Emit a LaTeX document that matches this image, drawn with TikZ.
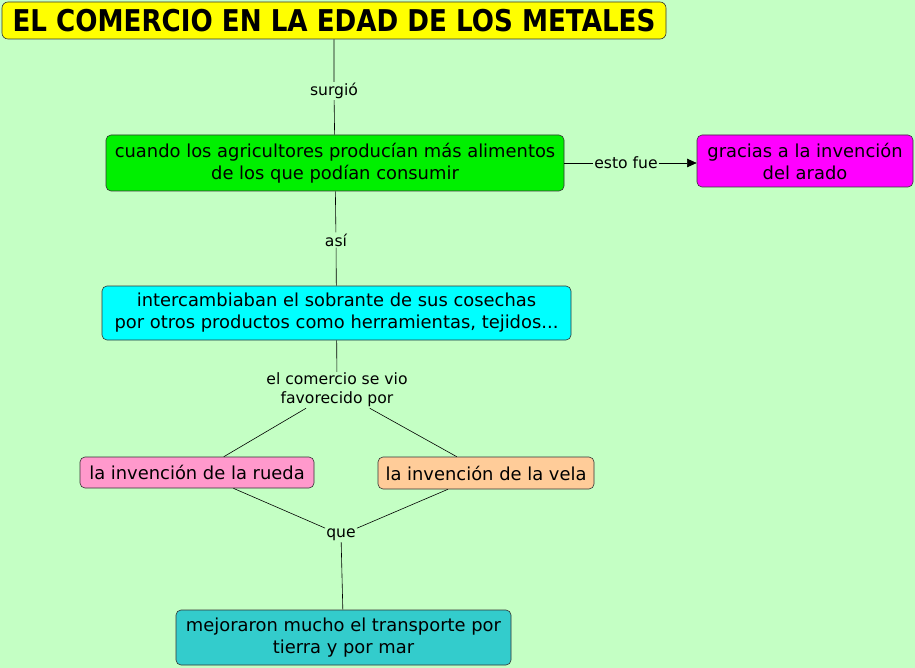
\documentclass[tikz,border=0pt]{standalone}
\usepackage{fontspec}
\setmainfont{DejaVu Sans}
\usepackage{graphicx}
\usetikzlibrary{arrows.meta,positioning}
\definecolor{mapbg}{HTML}{C4FFC4}
\definecolor{titleyellow}{HTML}{FFFF00}
\definecolor{boxgreen}{HTML}{00F000}
\definecolor{boxmagenta}{HTML}{FF00FF}
\definecolor{boxcyan}{HTML}{00FFFF}
\definecolor{boxpink}{HTML}{FF99CC}
\definecolor{boxpeach}{HTML}{FFCC99}
\definecolor{boxteal}{HTML}{33CCCC}
\tikzset{
  >={Triangle[length=3.4mm,width=3mm]},
  % begrepp
  cbox/.style={draw=black!80,line width=0.6pt,rounded corners=5pt,align=center,
               inner sep=2pt,font=\fontsize{17.9}{22}\selectfont},
  ttl/.style={cbox,fill=titleyellow,rounded corners=6pt},
  % länkar
  lnk/.style={fill=mapbg,inner sep=1pt,align=center,font=\fontsize{15.6}{19}\selectfont},
  cl/.style={draw=black,line width=0.6pt},
}

\begin{document}
\begin{tikzpicture}[x=1pt,y=-1pt]
  \fill[mapbg] (0,0) rectangle (915,668);
  \useasboundingbox (0,0) rectangle (915,668);
  \node[ttl,minimum width=664pt,minimum height=37pt] (t) at (334,20.5)
    {\scalebox{0.872}[1]{\fontsize{30}{32}\selectfont\bfseries EL COMERCIO EN LA EDAD DE LOS METALES}};
  \node[cbox,fill=boxgreen,minimum width=458pt,minimum height=56pt] (g) at (335,163)
    {cuando los agricultores producían más alimentos\\de los que podían consumir};
  \node[cbox,fill=boxmagenta,minimum width=216pt,minimum height=52pt] (m) at (805,161)
    {gracias a la invención\\del arado};
  \node[cbox,fill=boxcyan,minimum width=469pt,minimum height=54pt] (c) at (336.5,313)
    {intercambiaban el sobrante de sus cosechas\\por otros productos como herramientas, tejidos...};
  \node[cbox,fill=boxpink,minimum width=234pt,minimum height=31pt] (r) at (197,472.5)
    {la invención de la rueda};
  \node[cbox,fill=boxpeach,minimum width=216pt,minimum height=32pt] (v) at (486,473)
    {la invención de la vela};
  \node[cbox,fill=boxteal,minimum width=335pt,minimum height=55pt] (tm) at (343.5,637.5)
    {mejoraron mucho el transporte por\\tierra y por mar};
  % länktexter
  \node[lnk] (l1) at (334,91) {surgió};
  \node[lnk] (l2) at (336,240) {así};
  \node[lnk] (l3) at (626,163) {esto fue};
  \node[lnk] (l4) at (337,390) {el comercio se vio\\favorecido por};
  \node[lnk] (l5) at (341,535) {que};
  % linjer
  \draw[cl] (t) -- (l1) -- (g);
  \draw[cl] (g) -- (l2) -- (c);
  \draw[cl] (g) -- (l3);
  \draw[cl,->] (l3) -- (l3 -| m.west);
  \draw[cl] (c) -- (l4);
  \draw[cl] (l4) -- (r);
  \draw[cl] (l4) -- (v);
  \draw[cl] (r) -- (l5);
  \draw[cl] (v) -- (l5);
  \draw[cl] (l5) -- (tm);
\end{tikzpicture}
\end{document}
